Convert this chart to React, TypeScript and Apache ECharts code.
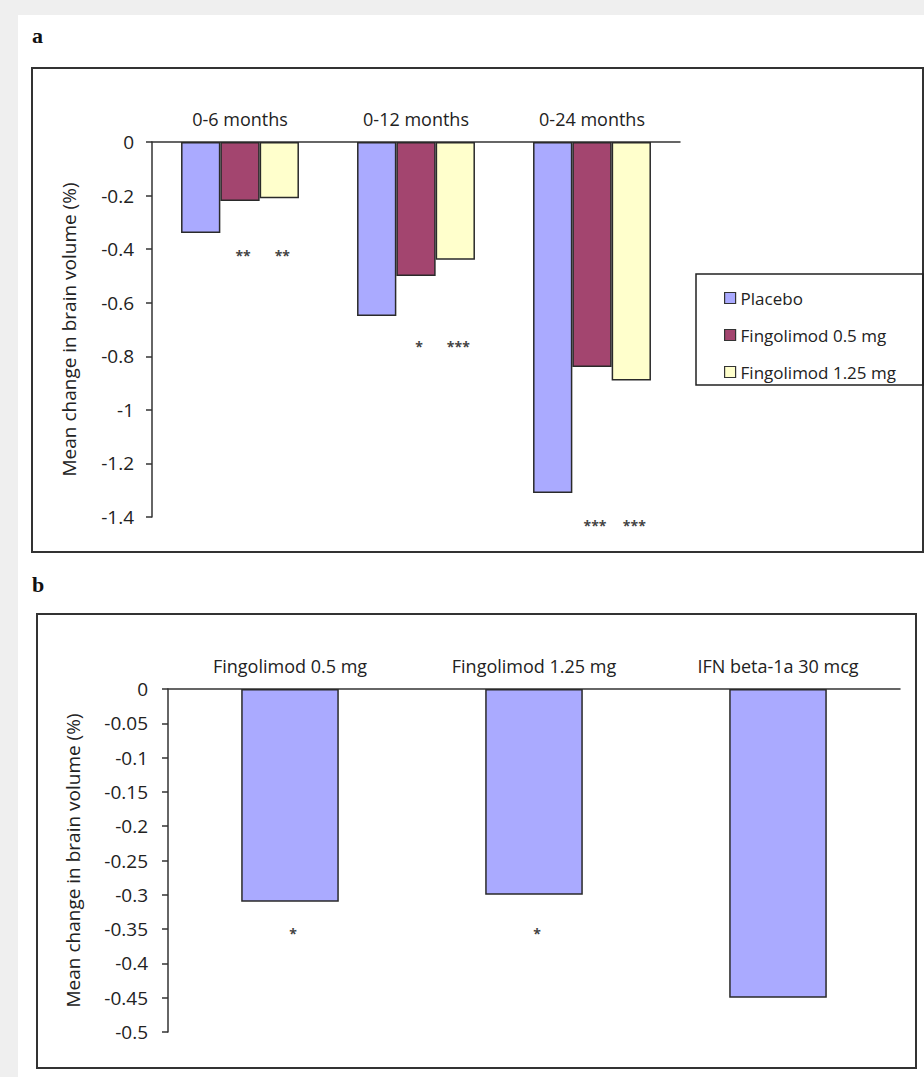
import React, { useEffect, useRef } from "react";
import * as echarts from "echarts";

// ---- Panel a data ----
const categoriesA = ["0-6 months", "0-12 months", "0-24 months"];
const seriesNamesA = ["Placebo", "Fingolimod 0.5 mg", "Fingolimod 1.25 mg"];
const placebo = [-0.34, -0.65, -1.31];
const fingo05 = [-0.22, -0.5, -0.84];
const fingo125 = [-0.21, -0.44, -0.89];
const starsA05 = ["**", "*", "***"];
const starsA125 = ["**", "***", "***"];
const starLevelA = [-0.41, -0.75, -1.415];
const yMinA = -1.4;
const yStepA = 0.2;

// ---- Panel b data ----
const categoriesB = ["Fingolimod 0.5 mg", "Fingolimod 1.25 mg", "IFN beta-1a 30 mcg"];
const valuesB = [-0.31, -0.3, -0.45];
const starsB = ["*", "*", ""];
const starLevelB = [-0.35, -0.35, -0.35];
const yMinB = -0.5;
const yStepB = 0.05;

const colors = ["#aaaaff", "#a3456f", "#ffffcc"];
const FONT = "'Open Sans', 'Noto Sans', sans-serif";
const TXT = "#222";
const GAP_A = 0.33;
const GAP_B = 0.6;

export default function App() {
  const ref = useRef<HTMLDivElement>(null);
  useEffect(() => {
    document.body.style.margin = "0";
    const chart = echarts.init(ref.current!, undefined, { renderer: "svg" });

    const starDataA: number[][] = [];
    const starTextA: string[] = [];
    categoriesA.forEach((_, i) => {
      starDataA.push([i, starLevelA[i], 1]);
      starTextA.push(starsA05[i]);
      starDataA.push([i, starLevelA[i], 2]);
      starTextA.push(starsA125[i]);
    });
    const starDataB: number[][] = [];
    const starTextB: string[] = [];
    categoriesB.forEach((_, i) => {
      if (starsB[i]) {
        starDataB.push([i, starLevelB[i], 0]);
        starTextB.push(starsB[i]);
      }
    });

    const makeStars = (texts: string[], gap: number, slots: number) =>
      (params: any, api: any) => {
        const cat = api.value(0);
        const val = api.value(1);
        const slot = api.value(2);
        const pt = api.coord([cat, val]);
        const band = api.size([1, 0])[0];
        const group = band * (1 - gap);
        const bw = group / slots;
        const x = pt[0] - group / 2 + bw * (slot + 0.5) + 3;
        return {
          type: "text",
          x,
          y: pt[1] + 4,
          style: {
            text: texts[params.dataIndex],
            fill: "#444",
            font: `bold 14px ${FONT}`,
            align: "center",
            verticalAlign: "middle",
          },
        };
      };

    const axisLineStyle = { color: "#333", width: 1.5 };
    const yName = "Mean change in brain volume (%)";
    const barBorder = { borderColor: "#2a2a2a", borderWidth: 1.5 };

    chart.setOption({
      animation: false,
      backgroundColor: "#efefef",
      textStyle: { fontFamily: FONT },
      graphic: [
        { type: "rect", z: -100, shape: { x: 18, y: 15, width: 906, height: 1062 }, style: { fill: "#ffffff" } },
        { type: "rect", z: 50, shape: { x: 32, y: 68, width: 891, height: 484 }, style: { fill: "none", stroke: "#333", lineWidth: 2 } },
        { type: "rect", z: 50, shape: { x: 37, y: 614, width: 879, height: 454 }, style: { fill: "none", stroke: "#333", lineWidth: 2 } },
        { type: "rect", z: 50, shape: { x: 696, y: 274, width: 227, height: 111 }, style: { fill: "none", stroke: "#222", lineWidth: 1.5 } },
        { type: "text", x: 32, y: 24, style: { text: "a", font: "bold 22px 'Liberation Serif', serif", fill: "#111" } },
        { type: "text", x: 32, y: 573, style: { text: "b", font: "bold 22px 'Liberation Serif', serif", fill: "#111" } },
      ],
      legend: {
        data: seriesNamesA,
        orient: "vertical",
        left: 719,
        top: 284,
        itemWidth: 11,
        itemHeight: 11,
        itemGap: 19,
        icon: "rect",
        selectedMode: false,
        itemStyle: { borderColor: "#333", borderWidth: 1.2 },
        textStyle: { fontSize: 17, color: TXT, fontFamily: FONT, lineHeight: 18 },
      },
      grid: [
        { left: 152, top: 142, width: 528, height: 375 },
        { left: 168, top: 689, width: 732, height: 343 },
      ],
      xAxis: [
        {
          gridIndex: 0,
          type: "category",
          position: "top",
          data: categoriesA,
          axisLine: { lineStyle: axisLineStyle },
          axisTick: { show: false },
          axisLabel: { fontSize: 18, color: TXT, margin: 14, fontFamily: FONT },
        },
        {
          gridIndex: 1,
          type: "category",
          position: "top",
          data: categoriesB,
          axisLine: { lineStyle: axisLineStyle },
          axisTick: { show: false },
          axisLabel: { fontSize: 18, color: TXT, margin: 14, fontFamily: FONT },
        },
      ],
      yAxis: [
        {
          gridIndex: 0,
          type: "value",
          min: yMinA,
          max: 0,
          interval: yStepA,
          name: yName,
          nameLocation: "middle",
          nameGap: 74,
          nameTextStyle: { fontSize: 19, color: TXT, fontFamily: FONT },
          axisLine: { show: true, lineStyle: axisLineStyle },
          axisTick: { show: true, length: 6, lineStyle: axisLineStyle },
          axisLabel: { fontSize: 19, color: TXT, margin: 18, fontFamily: FONT },
          splitLine: { show: false },
        },
        {
          gridIndex: 1,
          type: "value",
          min: yMinB,
          max: 0,
          interval: yStepB,
          name: yName,
          nameLocation: "middle",
          nameGap: 86,
          nameTextStyle: { fontSize: 19, color: TXT, fontFamily: FONT },
          axisLine: { show: true, lineStyle: axisLineStyle },
          axisTick: { show: true, length: 6, lineStyle: axisLineStyle },
          axisLabel: { fontSize: 19, color: TXT, margin: 20, fontFamily: FONT },
          splitLine: { show: false },
        },
      ],
      series: [
        ...[placebo, fingo05, fingo125].map((d, i) => ({
          type: "bar",
          name: seriesNamesA[i],
          xAxisIndex: 0,
          yAxisIndex: 0,
          data: d,
          barGap: "0%",
          barCategoryGap: `${GAP_A * 100}%`,
          itemStyle: { color: colors[i], ...barBorder },
        })),
        {
          type: "custom",
          name: "starsA",
          xAxisIndex: 0,
          yAxisIndex: 0,
          data: starDataA,
          renderItem: makeStars(starTextA, GAP_A, 3),
          silent: true,
        },
        {
          type: "bar",
          name: "Mean change",
          xAxisIndex: 1,
          yAxisIndex: 1,
          data: valuesB,
          barCategoryGap: `${GAP_B * 100}%`,
          itemStyle: { color: colors[0], ...barBorder },
        },
        {
          type: "custom",
          name: "starsB",
          xAxisIndex: 1,
          yAxisIndex: 1,
          data: starDataB,
          renderItem: makeStars(starTextB, GAP_B, 1),
          silent: true,
        },
      ],
    });
    return () => chart.dispose();
  }, []);
  return <div ref={ref} style={{ width: 924, height: 1077 }} />;
}
